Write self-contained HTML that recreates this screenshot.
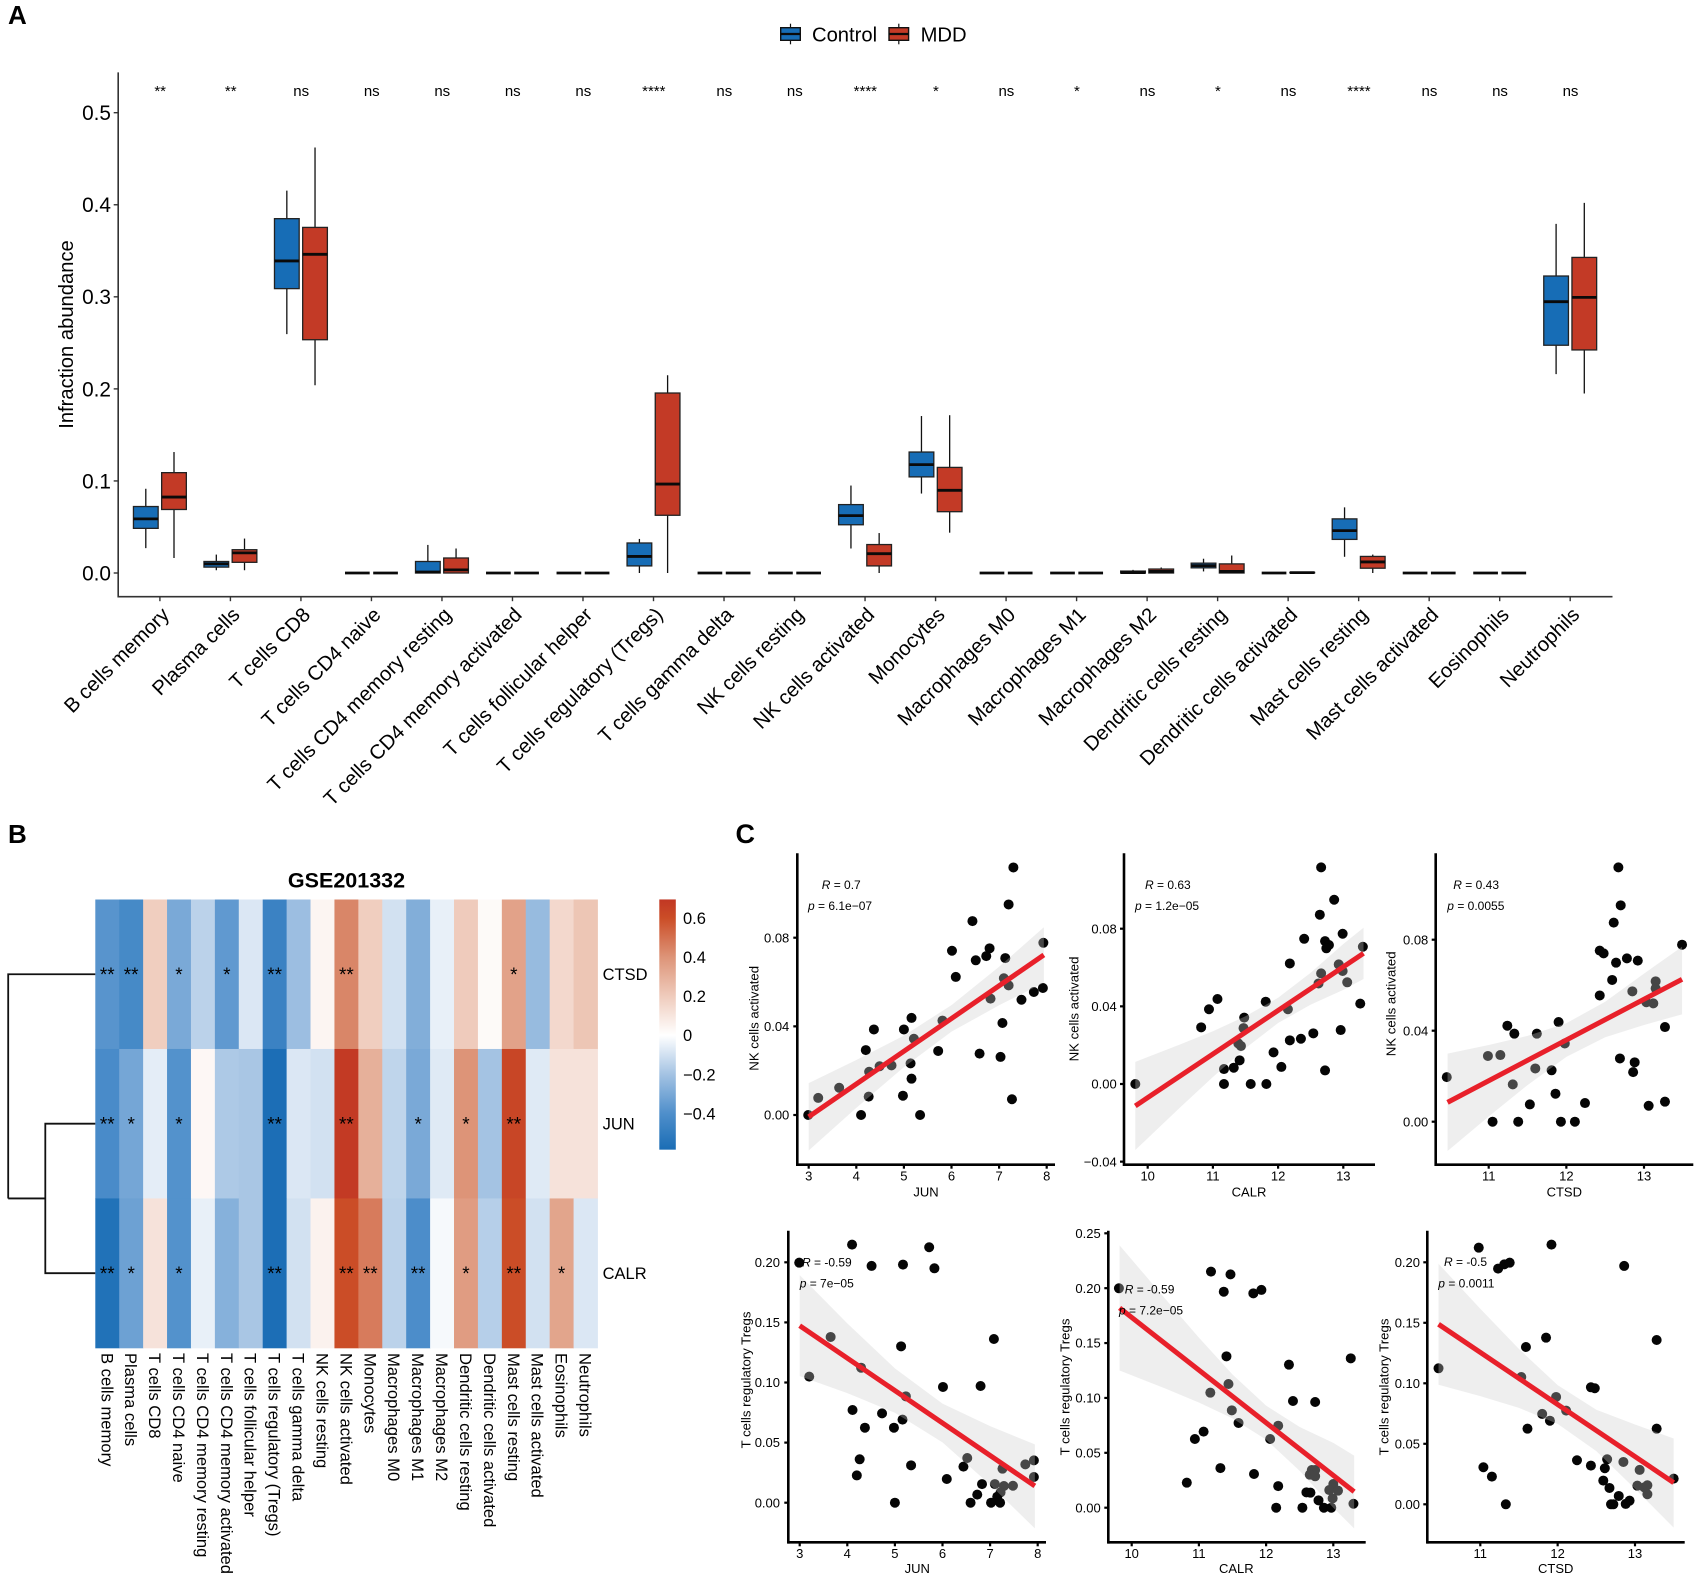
<!DOCTYPE html>
<html lang="en">
<head>
<meta charset="utf-8">
<title>Immune infiltration figure</title>
<style>
html,body{margin:0;padding:0;background:#fff}
svg{display:block}
text{font-family:"Liberation Sans",Arial,sans-serif;fill:#000}
</style>
</head>
<body>
<svg id="figure" xmlns="http://www.w3.org/2000/svg" width="1701" height="1581" viewBox="0 0 1701 1581">
  <rect x="0" y="0" width="1701" height="1581" fill="#fff"/>
  <text x="8" y="24" font-size="26" font-weight="700">A</text>
  <text x="8" y="843" font-size="26" font-weight="700">B</text>
  <text x="735.5" y="843" font-size="27" font-weight="700">C</text>
  <text transform="translate(73 334.5) rotate(-90)" text-anchor="middle" font-size="20.2">Infraction abundance</text>
  <text x="346.5" y="887.5" text-anchor="middle" font-size="21.5" font-weight="700">GSE201332</text>
  <g id="panelA"></g>
  <g id="panelB"></g>
  <g id="panelC"></g>
</svg>
<script>
/* ---------- Panel A data ---------- */
const boxCategories = ["B cells memory","Plasma cells","T cells CD8","T cells CD4 naive","T cells CD4 memory resting","T cells CD4 memory activated","T cells follicular helper","T cells regulatory (Tregs)","T cells gamma delta","NK cells resting","NK cells activated","Monocytes","Macrophages M0","Macrophages M1","Macrophages M2","Dendritic cells resting","Dendritic cells activated","Mast cells resting","Mast cells activated","Eosinophils","Neutrophils"];
const boxSignificance = ["**","**","ns","ns","ns","ns","ns","****","ns","ns","****","*","ns","*","ns","*","ns","****","ns","ns","ns"];
const controlLow  = [.027,.003,.2595,0,0,0,0,0,0,0,.0266,.0863,0,0,0,.0017,0,.0176,0,0,.216];
const controlQ1   = [.0485,.0064,.3089,0,0,0,0,.0077,0,0,.0524,.1044,0,0,0,.0056,0,.0365,0,0,.2474];
const controlMed  = [.0588,.0099,.339,0,.001,0,0,.018,0,0,.0623,.1177,0,0,.0005,.008,0,.046,0,0,.2947];
const controlQ3   = [.0722,.0125,.3849,0,.0125,0,0,.0326,0,0,.0743,.1314,0,0,.0021,.0107,0,.0588,0,0,.3226];
const controlHigh = [.0915,.02,.4154,0,.0305,0,0,.037,0,0,.095,.1705,0,0,.0034,.0155,0,.0713,0,0,.3793];
const mddLow  = [.0163,.003,.204,0,0,0,0,0,0,0,0,.0438,0,0,0,0,0,0,0,0,.195];
const mddQ1   = [.069,.0116,.2534,0,0,0,0,.0627,0,0,.0077,.0666,0,0,0,0,.0002,.0052,0,0,.2423];
const mddMed  = [.0825,.0219,.3462,0,.0034,0,0,.0966,0,0,.021,.0898,0,0,.0017,.0017,.0004,.012,0,0,.2994];
const mddQ3   = [.109,.0253,.3754,0,.0163,0,0,.1955,0,0,.0309,.1147,0,0,.0043,.0099,.0007,.018,0,0,.3428];
const mddHigh = [.1314,.0374,.4622,0,.0266,0,0,.2148,0,0,.0434,.1714,0,0,.006,.019,.0007,.02,0,0,.402];
const boxYTicks = [0,0.1,0.2,0.3,0.4,0.5];
const legendLabels = ["Control","MDD"];

/* ---------- Panel B data ---------- */
const heatColumns = ["B cells memory","Plasma cells","T cells CD8","T cells CD4 naive","T cells CD4 memory resting","T cells CD4 memory activated","T cells follicular helper","T cells regulatory (Tregs)","T cells gamma delta","NK cells resting","NK cells activated","Monocytes","Macrophages M0","Macrophages M1","Macrophages M2","Dendritic cells resting","Dendritic cells activated","Mast cells resting","Mast cells activated","Eosinophils","Neutrophils"];
const heatRows = ["CTSD","JUN","CALR"];
const ctsdValues = [-.38,-.43,.19,-.3,-.15,-.36,-.08,-.47,-.22,.04,.44,.19,-.1,-.28,-.05,.2,.02,.35,-.23,.15,.22];
const junValues  = [-.42,-.31,-.06,-.39,.03,-.18,-.19,-.58,-.08,-.1,.68,.3,-.14,-.3,-.07,.4,-.2,.63,-.07,.11,.11];
const calrValues = [-.56,-.33,.11,-.39,-.05,-.27,-.19,-.58,-.1,.05,.6,.47,-.15,-.41,-.02,.37,-.16,.6,-.1,.34,-.08];
const ctsdStars = ["**","**","","*","","*","","**","","","**","","","","","","","*","","",""];
const junStars  = ["**","*","","*","","","","**","","","**","","","*","","*","","**","","",""];
const calrStars = ["**","*","","*","","","","**","","","**","**","","**","","*","","**","","*",""];
const colorStopValues = [-.586,-.4,-.2,0,.2,.4,.6,.695];
const colorStopColors = ["#1a6db5","#4f8fcb","#a4c3e3","#ffffff","#efcbbc","#dd9478","#cb4d27","#c13724"];
const colorbarTicks = [-.4,-.2,0,.2,.4,.6];

/* ---------- Panel C data ---------- */
const nkJunX = [7.30,7.20,6.44,6.01,6.80,6.73,6.51,7.13,7.93,6.09,7.10,7.20,6.82,7.47,7.73,7.92,7.07,5.81,5.16,5.00,4.37,5.21,4.20,5.72,6.59,7.03,5.14,4.74,4.49,4.27,5.16,3.64,3.20,4.26,4.98,7.27,2.99,4.10,5.34];
const nkJunY = [.1117,.0950,.0875,.0741,.0752,.0717,.0698,.0708,.0777,.0623,.0617,.0585,.0525,.0520,.0555,.0573,.0415,.0426,.0438,.0386,.0386,.0344,.0293,.0289,.0277,.0262,.0233,.0224,.0220,.0195,.0164,.0123,.0077,.0083,.0087,.0071,0,0,0];
const nkJunFitX = [3,7.94];
const nkJunFitY = [-.0008,.0722];
const nkJunBandX = [3,4,5,6,7,7.94];
const nkJunBandUpper = [.0144,.0248,.0358,.0496,.0669,.0847];
const nkJunBandLower = [-.016,.0032,.0216,.0376,.0495,.0597];

const nkCalrX = [12.66,12.86,12.64,12.99,12.40,12.72,12.78,12.74,13.30,12.18,12.93,12.66,12.99,12.62,13.06,13.26,11.81,12.15,11.07,10.94,10.82,11.48,11.47,12.54,12.96,12.18,12.35,11.39,11.43,11.93,11.41,12.05,12.72,11.32,11.17,11.17,11.58,11.82,9.81];
const nkCalrY = [.1116,.0949,.0872,.0774,.0748,.0736,.0716,.0699,.0707,.0621,.0616,.0570,.0582,.0518,.0524,.0414,.0424,.0385,.0438,.0385,.0292,.0342,.0288,.0261,.0278,.0225,.0233,.0209,.0196,.0163,.0122,.0088,.0070,.0084,.0077,0,0,0,0];
const nkCalrFitX = [9.81,13.31];
const nkCalrFitY = [-.0113,.0673];
const nkCalrBandX = [9.81,10.5,11,11.5,12,12.5,13,13.31];
const nkCalrBandUpper = [.0114,.0204,.0272,.0349,.0444,.0573,.0721,.0805];
const nkCalrBandLower = [-.034,-.012,.0036,.0185,.0314,.0409,.0485,.0541];

const nkCtsdX = [12.67,12.70,12.61,12.43,12.48,12.64,12.78,12.92,13.49,12.59,13.15,13.15,12.85,12.43,13.03,13.12,13.27,11.90,11.24,11.33,11.62,11.98,10.99,11.15,12.69,12.88,12.86,11.60,11.81,10.46,11.31,11.86,11.53,12.24,13.06,13.27,11.05,11.38,11.93,12.11];
const nkCtsdY = [.1118,.0951,.0875,.0752,.0740,.0699,.0718,.0708,.0778,.0623,.0617,.0586,.0573,.0555,.0525,.0520,.0416,.0438,.0422,.0387,.0387,.0344,.0289,.0293,.0278,.0261,.0218,.0234,.0226,.0196,.0164,.0123,.0076,.0082,.0070,.0088,0,0,0,0];
const nkCtsdFitX = [10.47,13.49];
const nkCtsdFitY = [.0085,.0626];
const nkCtsdBandX = [10.47,11,11.5,12,12.5,13,13.49];
const nkCtsdBandUpper = [.0299,.0337,.0377,.0433,.0527,.0651,.0769];
const nkCtsdBandLower = [-.0129,.0023,.0161,.0285,.0371,.0425,.0472];

const tregJunX = [4.10,5.72,2.99,4.51,5.17,5.83,3.65,7.08,5.13,3.20,4.29,6.01,6.80,5.23,4.11,4.73,5.16,4.37,4.98,6.52,4.26,5.34,6.44,7.74,7.92,7.26,4.20,6.09,7.92,6.83,7.10,7.29,7.48,7.22,6.73,7.15,5.00,6.59,7.02,7.21];
const tregJunY = [.2147,.2125,.1997,.1970,.1981,.1950,.1379,.1362,.1301,.1049,.1123,.0963,.0971,.0885,.0771,.0743,.0691,.0624,.0624,.0372,.0361,.0311,.0300,.0319,.0352,.0283,.0227,.0197,.0214,.0155,.0155,.0139,.0141,.0086,.0067,.0050,0,0,0,0];
const tregJunFitX = [3,7.94];
const tregJunFitY = [.1473,.0139];
const tregJunBandX = [3,4,5,6,7,7.94];
const tregJunBandUpper = [.1893,.1492,.1118,.0824,.0637,.0485];
const tregJunBandLower = [.1053,.0912,.0748,.0502,.0149,-.0214];

const tregCalrX = [11.18,11.47,11.37,11.81,11.93,9.81,13.26,11.41,12.34,11.44,11.17,12.40,12.73,11.49,11.59,12.18,12.06,11.07,10.94,11.32,10.82,11.82,12.68,12.73,12.65,12.73,12.18,13.00,12.94,13.07,12.60,12.66,12.99,12.78,13.30,12.15,12.54,12.86,12.97];
const tregCalrY = [.2151,.2126,.1968,.1953,.1984,.1999,.1361,.1379,.1303,.1127,.1048,.0972,.0963,.0887,.0772,.0747,.0626,.0693,.0626,.0361,.0228,.0307,.0343,.0343,.0301,.0286,.0197,.0216,.0161,.0155,.0140,.0137,.0085,.0067,.0036,0,0,0,0];
const tregCalrFitX = [9.82,13.31];
const tregCalrFitY = [.182,.0146];
const tregCalrBandX = [9.82,10.5,11,11.5,12,12.5,13,13.31];
const tregCalrBandUpper = [.239,.1902,.155,.1214,.093,.0735,.0591,.0474];
const tregCalrBandLower = [.125,.1086,.0958,.0814,.062,.0335,-.0001,-.0188];

const tregCtsdX = [10.98,11.92,11.23,11.31,11.38,12.86,13.28,11.85,11.59,10.46,11.53,12.43,12.48,11.98,12.11,11.80,11.90,11.61,13.28,12.64,12.25,12.85,12.43,12.61,13.06,11.04,11.15,13.50,12.59,12.67,13.03,13.12,13.16,13.16,12.79,12.93,12.88,11.33,12.69,12.72];
const tregCtsdY = [.2121,.2146,.1948,.1983,.1997,.1970,.1358,.1377,.1300,.1124,.1052,.0967,.0959,.0887,.0774,.0747,.0691,.0625,.0625,.0372,.0364,.0350,.0320,.0298,.0284,.0306,.0229,.0212,.0196,.0135,.0154,.0140,.0157,.0083,.0069,.0030,.0003,0,0,0];
const tregCtsdFitX = [10.46,13.50];
const tregCtsdFitY = [.1488,.0179];
const tregCtsdBandX = [10.46,11,11.5,12,12.5,13,13.5];
const tregCtsdBandUpper = [.1988,.1616,.1283,.0985,.0781,.066,.0544];
const tregCtsdBandLower = [.0988,.0894,.0797,.0665,.0439,.0128,-.0193];

/* ---------- helpers ---------- */
const SVGNS = "http://www.w3.org/2000/svg";
function make(tag, attrs, parent, txt) {
  const n = document.createElementNS(SVGNS, tag);
  for (const k in attrs) n.setAttribute(k, attrs[k]);
  if (txt !== undefined) n.textContent = txt;
  parent.appendChild(n);
  return n;
}
function minusFmt(v, d) {
  return (v < 0 ? "\u2212" : "") + Math.abs(v).toFixed(d);
}
function linear(v0, p0, v1, p1) {
  return v => p0 + (v - v0) * (p1 - p0) / (v1 - v0);
}

/* ---------- Panel A ---------- */
(function () {
  const g = document.getElementById("panelA");
  const xA = i => 159.9 + i * 70.515;
  const yA = linear(0, 573, 0.5, 112.7);
  const axisColor = "#333";
  const left = 118.2, bottom = 596.7, top = 72.4, right = 1612.5;

  let e = make("line", {x1: left, y1: top, x2: left, y2: bottom + .8, stroke: axisColor, "stroke-width": 1.6}, g);
  
  
  e = make("line", {x1: left, y1: bottom, x2: right, y2: bottom, stroke: axisColor, "stroke-width": 1.6}, g);
  
  

  boxYTicks.forEach(v => {
    const t = make("line", {x1: left - 4.5, x2: left, y1: yA(v), y2: yA(v), stroke: axisColor, "stroke-width": 1.4}, g);
    
    
    const l = make("text", {x: 111, y: yA(v) + 7.4, "text-anchor": "end", "font-size": 20.8, fill: "#111"}, g, v.toFixed(1));
    
    
  });

  function drawBox(cx, lo, q1, med, q3, hi, fill, name) {
    const w = 24.7;
    const wh = make("line", {x1: cx, x2: cx, y1: yA(hi), y2: yA(lo), stroke: "#111", "stroke-width": 1.3}, g);
    
    
    const r = make("rect", {x: cx - w / 2, y: yA(q3), width: w, height: Math.max(0, yA(q1) - yA(q3)), fill: fill, stroke: "#222", "stroke-width": 1.3}, g);
    
    
    const m = make("line", {x1: cx - w / 2, x2: cx + w / 2, y1: yA(med), y2: yA(med), stroke: "#0a0a0a", "stroke-width": 2.8}, g);
    
    
  }

  boxCategories.forEach((c, i) => {
    const x = xA(i);
    const t = make("line", {x1: x, x2: x, y1: bottom, y2: bottom + 4.5, stroke: axisColor, "stroke-width": 1.4}, g);
    
    
    const lab = make("text", {x: x + 10.5, y: 616, "text-anchor": "end", "font-size": 20.3, fill: "#111", transform: `rotate(-45 ${x + 10.5} 616)`}, g, c);
    
    
    const s = make("text", {x: x + .3, y: 96.2, "text-anchor": "middle", "font-size": 15, fill: "#111"}, g, boxSignificance[i]);
    
    
    drawBox(x - 14.1, controlLow[i], controlQ1[i], controlMed[i], controlQ3[i], controlHigh[i], "#176db6", "control");
    drawBox(x + 14.1, mddLow[i], mddQ1[i], mddMed[i], mddQ3[i], mddHigh[i], "#c33a26", "mdd");
  });

  const keyX = [790.5, 898.8], textX = [812, 920.6], keyFill = ["#176db6", "#c33a26"];
  legendLabels.forEach((lbl, i) => {
    const wh = make("line", {x1: keyX[i], x2: keyX[i], y1: 23.7, y2: 44.3, stroke: "#111", "stroke-width": 1.2}, g);
    
    
    const r = make("rect", {x: keyX[i] - 9.8, y: 27.7, width: 19.6, height: 12.6, fill: keyFill[i], stroke: "#111", "stroke-width": 1.4}, g);
    
    
    const m = make("line", {x1: keyX[i] - 9.8, x2: keyX[i] + 9.8, y1: 34, y2: 34, stroke: "#0a0a0a", "stroke-width": 2.2}, g);
    
    
    const t = make("text", {x: textX[i], y: 41.5, "font-size": 20.2, fill: "#111"}, g, lbl);
    
    
  });
})();

/* ---------- Panel B ---------- */
(function () {
  const g = document.getElementById("panelB");
  const x0 = 95.3, y0 = 899.5, cw = 502.2 / 21, ch = 149.47;
  const rowValues = [ctsdValues, junValues, calrValues];
  const rowStars = [ctsdStars, junStars, calrStars];

  function hexToRgb(h) {
    return [parseInt(h.slice(1, 3), 16), parseInt(h.slice(3, 5), 16), parseInt(h.slice(5, 7), 16)];
  }
  function colorFor(v) {
    const n = colorStopValues.length;
    if (v <= colorStopValues[0]) return colorStopColors[0];
    if (v >= colorStopValues[n - 1]) return colorStopColors[n - 1];
    for (let i = 0; i < n - 1; i++) {
      if (v <= colorStopValues[i + 1]) {
        const t = (v - colorStopValues[i]) / (colorStopValues[i + 1] - colorStopValues[i]);
        const a = hexToRgb(colorStopColors[i]), b = hexToRgb(colorStopColors[i + 1]);
        return `rgb(${a.map((c, k) => Math.round(c + (b[k] - c) * t)).join(",")})`;
      }
    }
  }

  rowValues.forEach((vals, r) => {
    vals.forEach((v, c) => {
      const cell = make("rect", {x: x0 + c * cw, y: y0 + r * ch, width: cw + .4, height: ch + .4, fill: colorFor(v)}, g);
      
      
    });
  });
  rowStars.forEach((vals, r) => {
    vals.forEach((s, c) => {
      if (!s) return;
      const st = make("text", {x: x0 + (c + .5) * cw, y: y0 + (r + .5) * ch + 6.8, "text-anchor": "middle", "font-size": 19, fill: "#111"}, g, s);
      
      
    });
    const rl = make("text", {x: 602.6, y: y0 + (r + .5) * ch + 6, "font-size": 16.5, fill: "#111"}, g, heatRows[r]);
    
    
  });
  heatColumns.forEach((c, i) => {
    const bx = x0 + (i + .5) * cw - 6;
    const cl = make("text", {x: bx, y: 1353, "font-size": 16.6, fill: "#111", transform: `rotate(90 ${bx} 1353)`}, g, c);
    
    
  });

  /* dendrogram */
  const rowY = r => y0 + (r + .5) * ch;
  const mid = (rowY(1) + rowY(2)) / 2;
  const dend = make("path", {d: `M95.3 ${rowY(1)}H45.3V${rowY(2)}H95.3M45.3 ${mid}H8.2M8.2 ${mid}V${rowY(0)}H95.3`, fill: "none", stroke: "#111", "stroke-width": 1.8}, g);
  
  

  /* colour bar */
  const yC = linear(0, 1035.2, .6, 918);
  const defs = make("defs", {}, g);
  const lg = make("linearGradient", {id: "colorbarGradient", x1: 0, y1: 1, x2: 0, y2: 0}, defs);
  colorStopValues.forEach((v, i) => {
    make("stop", {offset: (v - colorStopValues[0]) / (colorStopValues[colorStopValues.length - 1] - colorStopValues[0]), "stop-color": colorStopColors[i]}, lg);
  });
  const bar = make("rect", {x: 659.3, y: yC(.695), width: 16.5, height: yC(-.586) - yC(.695), fill: "url(#colorbarGradient)"}, g);
  
  
  colorbarTicks.forEach(v => {
    const lbl = v === 0 ? "0" : minusFmt(v, 1);
    const t = make("text", {x: 683, y: yC(v) + 6, "font-size": 16.5, fill: "#111"}, g, lbl);
    
    
  });
})();

/* ---------- Panel C ---------- */
function drawScatter(cfg) {
  const g = make("g", {}, document.getElementById("panelC"));
  
  
  const sx = linear(cfg.xRef[0], cfg.xRef[1], cfg.xRef[2], cfg.xRef[3]);
  const sy = linear(cfg.yRef[0], cfg.yRef[1], cfg.yRef[2], cfg.yRef[3]);

  cfg.x.forEach((v, i) => {
    const c = make("circle", {cx: sx(v), cy: sy(cfg.y[i]), r: 5, fill: "#050505"}, g);
    
    
  });

  const upperPts = cfg.bandX.map((v, i) => `${sx(v)},${sy(cfg.bandUpper[i])}`);
  const lowerPts = cfg.bandX.map((v, i) => `${sx(v)},${sy(cfg.bandLower[i])}`).reverse();
  const band = make("polygon", {points: upperPts.concat(lowerPts).join(" "), fill: "rgb(204,204,204)", "fill-opacity": .33}, g);
  
  

  const fit = make("line", {x1: sx(cfg.fitX[0]), y1: sy(cfg.fitY[0]), x2: sx(cfg.fitX[1]), y2: sy(cfg.fitY[1]), stroke: "#e8202a", "stroke-width": 5}, g);
  
  

  const ya = make("line", {x1: cfg.axisX, x2: cfg.axisX, y1: cfg.top, y2: cfg.axisY + 1.3, stroke: "#000", "stroke-width": 2.6}, g);
  
  
  const xa = make("line", {x1: cfg.axisX, x2: cfg.right, y1: cfg.axisY, y2: cfg.axisY, stroke: "#000", "stroke-width": 2.6}, g);
  
  

  cfg.xTicks.forEach(v => {
    const t = make("line", {x1: sx(v), x2: sx(v), y1: cfg.axisY, y2: cfg.axisY + 4, stroke: "#000", "stroke-width": 2.2}, g);
    
    
    const l = make("text", {x: sx(v), y: cfg.xTickY, "text-anchor": "middle", "font-size": 13, fill: "#111"}, g, String(v));
    
    
  });
  cfg.yTicks.forEach(v => {
    const t = make("line", {x1: cfg.axisX - 4, x2: cfg.axisX, y1: sy(v), y2: sy(v), stroke: "#000", "stroke-width": 2.2}, g);
    
    
    const l = make("text", {x: cfg.yTickRight, y: sy(v) + 4.6, "text-anchor": "end", "font-size": 13, fill: "#111"}, g, minusFmt(v, 2));
    
    
  });

  const xt = make("text", {x: cfg.xTitleX, y: cfg.xTitleY, "text-anchor": "middle", "font-size": 13, fill: "#111"}, g, cfg.xTitle);
  
  
  const yt = make("text", {transform: `translate(${cfg.yTitleX} ${cfg.yTitleY}) rotate(-90)`, "text-anchor": "middle", "font-size": 13.2, fill: "#111"}, g, cfg.yTitle);
  
  

  const rt = make("text", {x: cfg.rX, y: cfg.rY + 4.2, "font-size": 12, fill: "#333", "xml:space": "preserve"}, g);
  
  
  make("tspan", {"font-style": "italic"}, rt, "R");
  make("tspan", {}, rt, cfg.rText);
  const pt = make("text", {x: cfg.pX, y: cfg.pY + 4.2, "font-size": 12, fill: "#333"}, g);
  
  
  make("tspan", {"font-style": "italic"}, pt, "p");
  make("tspan", {}, pt, cfg.pText);
}

const topRowGeom = {top: 853.3, axisY: 1164.7, xTickY: 1180.5, xTitleY: 1196.5, rY: 885, pY: 905.7};
const botRowGeom = {top: 1230.7, axisY: 1542.3, xTickY: 1558.2, xTitleY: 1573};

drawScatter(Object.assign({}, topRowGeom, {
  name: "scatter-nk-vs-jun", x: nkJunX, y: nkJunY, fitX: nkJunFitX, fitY: nkJunFitY,
  bandX: nkJunBandX, bandUpper: nkJunBandUpper, bandLower: nkJunBandLower,
  xRef: [3, 808.7, 8, 1046.7], yRef: [0, 1115, .08, 937.7],
  xTicks: [3,4,5,6,7,8], yTicks: [0,.04,.08],
  axisX: 797.3, right: 1055, yTickRight: 789.3,
  xTitle: "JUN", xTitleX: 926, yTitle: "NK cells activated", yTitleX: 758.5, yTitleY: 1018.3,
  rText: " = 0.7", pText: " = 6.1e\u221207", rX: 821.7, pX: 808
}));
drawScatter(Object.assign({}, topRowGeom, {
  name: "scatter-nk-vs-calr", x: nkCalrX, y: nkCalrY, fitX: nkCalrFitX, fitY: nkCalrFitY,
  bandX: nkCalrBandX, bandUpper: nkCalrBandUpper, bandLower: nkCalrBandLower,
  xRef: [10, 1147.7, 13, 1343.3], yRef: [0, 1084, .08, 928.7],
  xTicks: [10,11,12,13], yTicks: [-.04,0,.04,.08],
  axisX: 1124, right: 1375, yTickRight: 1116.7,
  xTitle: "CALR", xTitleX: 1249, yTitle: "NK cells activated", yTitleX: 1078.5, yTitleY: 1009,
  rText: " = 0.63", pText: " = 1.2e\u221205", rX: 1145, pX: 1135
}));
drawScatter(Object.assign({}, topRowGeom, {
  name: "scatter-nk-vs-ctsd", x: nkCtsdX, y: nkCtsdY, fitX: nkCtsdFitX, fitY: nkCtsdFitY,
  bandX: nkCtsdBandX, bandUpper: nkCtsdBandUpper, bandLower: nkCtsdBandLower,
  xRef: [11, 1488.7, 13, 1644], yRef: [0, 1121.7, .08, 939.7],
  xTicks: [11,12,13], yTicks: [0,.04,.08],
  axisX: 1435.7, right: 1693.3, yTickRight: 1428.3,
  xTitle: "CTSD", xTitleX: 1564.3, yTitle: "NK cells activated", yTitleX: 1395.5, yTitleY: 1003.8,
  rText: " = 0.43", pText: " = 0.0055", rX: 1453.3, pX: 1447.3
}));
drawScatter(Object.assign({}, botRowGeom, {
  name: "scatter-treg-vs-jun", x: tregJunX, y: tregJunY, fitX: tregJunFitX, fitY: tregJunFitY,
  bandX: tregJunBandX, bandUpper: tregJunBandUpper, bandLower: tregJunBandLower,
  xRef: [3, 799.7, 8, 1037.7], yRef: [0, 1502.7, .2, 1262.3],
  xTicks: [3,4,5,6,7,8], yTicks: [0,.05,.1,.15,.2],
  axisX: 788.3, right: 1046, yTickRight: 780,
  xTitle: "JUN", xTitleX: 917.3, yTitle: "T cells regulatory Tregs", yTitleX: 750.5, yTitleY: 1380,
  rText: " =  -0.59", pText: " = 7e\u221205", rX: 802, rY: 1262.3, pX: 799.7, pY: 1283.3
}));
drawScatter(Object.assign({}, botRowGeom, {
  name: "scatter-treg-vs-calr", x: tregCalrX, y: tregCalrY, fitX: tregCalrFitX, fitY: tregCalrFitY,
  bandX: tregCalrBandX, bandUpper: tregCalrBandUpper, bandLower: tregCalrBandLower,
  xRef: [10, 1131.7, 13, 1333.3], yRef: [0, 1507.7, .25, 1233.3],
  xTicks: [10,11,12,13], yTicks: [0,.05,.1,.15,.2,.25],
  axisX: 1108.3, right: 1365.7, yTickRight: 1100.7,
  xTitle: "CALR", xTitleX: 1236.3, yTitle: "T cells regulatory Tregs", yTitleX: 1069.5, yTitleY: 1387,
  rText: " =  -0.59", pText: " = 7.2e\u221205", rX: 1124.7, rY: 1289.3, pX: 1119, pY: 1310.3
}));
drawScatter(Object.assign({}, botRowGeom, {
  name: "scatter-treg-vs-ctsd", x: tregCtsdX, y: tregCtsdY, fitX: tregCtsdFitX, fitY: tregCtsdFitY,
  bandX: tregCtsdBandX, bandUpper: tregCtsdBandUpper, bandLower: tregCtsdBandLower,
  xRef: [11, 1480.3, 13, 1635], yRef: [0, 1504.3, .2, 1262.3],
  xTicks: [11,12,13], yTicks: [0,.05,.1,.15,.2],
  axisX: 1427.3, right: 1684.7, yTickRight: 1420,
  xTitle: "CTSD", xTitleX: 1555.7, yTitle: "T cells regulatory Tregs", yTitleX: 1388.5, yTitleY: 1387,
  rText: " =  -0.5", pText: " = 0.0011", rX: 1444, rY: 1262, pX: 1438.3, pY: 1283.3
}));
</script>
</body>
</html>
